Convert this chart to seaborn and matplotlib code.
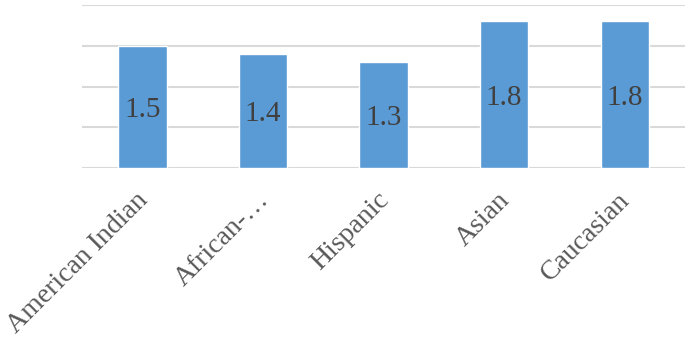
import matplotlib
matplotlib.use("Agg")
import matplotlib.pyplot as plt
import matplotlib.transforms as mtransforms
import seaborn as sns
import pandas as pd

categories = ["American Indian", "African-\u2026", "Hispanic", "Asian", "Caucasian"]
values = [1.5, 1.4, 1.3, 1.8, 1.8]
value_labels = ["1.5", "1.4", "1.3", "1.8", "1.8"]

sns.set_style("white")
plt.rcParams['font.family'] = ['Liberation Serif', 'DejaVu Serif']

df = pd.DataFrame({"category": categories, "value": values})

fig = plt.figure(figsize=(6.85, 3.41), dpi=100)
ax = fig.add_axes([0.12, 0.507, 0.88, 0.478])
sns.barplot(data=df, x="category", y="value", color="#5B9BD5", saturation=1,
            width=0.4, ax=ax, zorder=3)

ax.set_ylim(0, 2.0)
ax.set_yticks([0, 0.5, 1.0, 1.5, 2.0])
ax.yaxis.grid(True, color="#D9D9D9", linewidth=1.5, zorder=0)
ax.set_axisbelow(True)
ax.tick_params(axis='y', left=False, labelleft=False)
ax.tick_params(axis='x', bottom=False, length=0, pad=14)
for s in ax.spines.values():
    s.set_visible(False)
ax.set_xlabel("")
ax.set_ylabel("")
ax.set_xlim(-0.5, 4.5)

ax.set_xticks(range(len(categories)))
ax.set_xticklabels(categories, rotation=45, ha='right', rotation_mode='anchor',
                   fontsize=20, color="#595959")
offset = mtransforms.ScaledTranslation(-7 / 100, 0, fig.dpi_scale_trans)
for lbl in ax.get_xticklabels():
    lbl.set_transform(lbl.get_transform() + offset)

for i, (v, lab) in enumerate(zip(values, value_labels)):
    ax.text(i, v / 2, lab, ha='center', va='center_baseline', fontsize=21,
            color="#404040", zorder=4)

fig.savefig("out.png", dpi=100)
